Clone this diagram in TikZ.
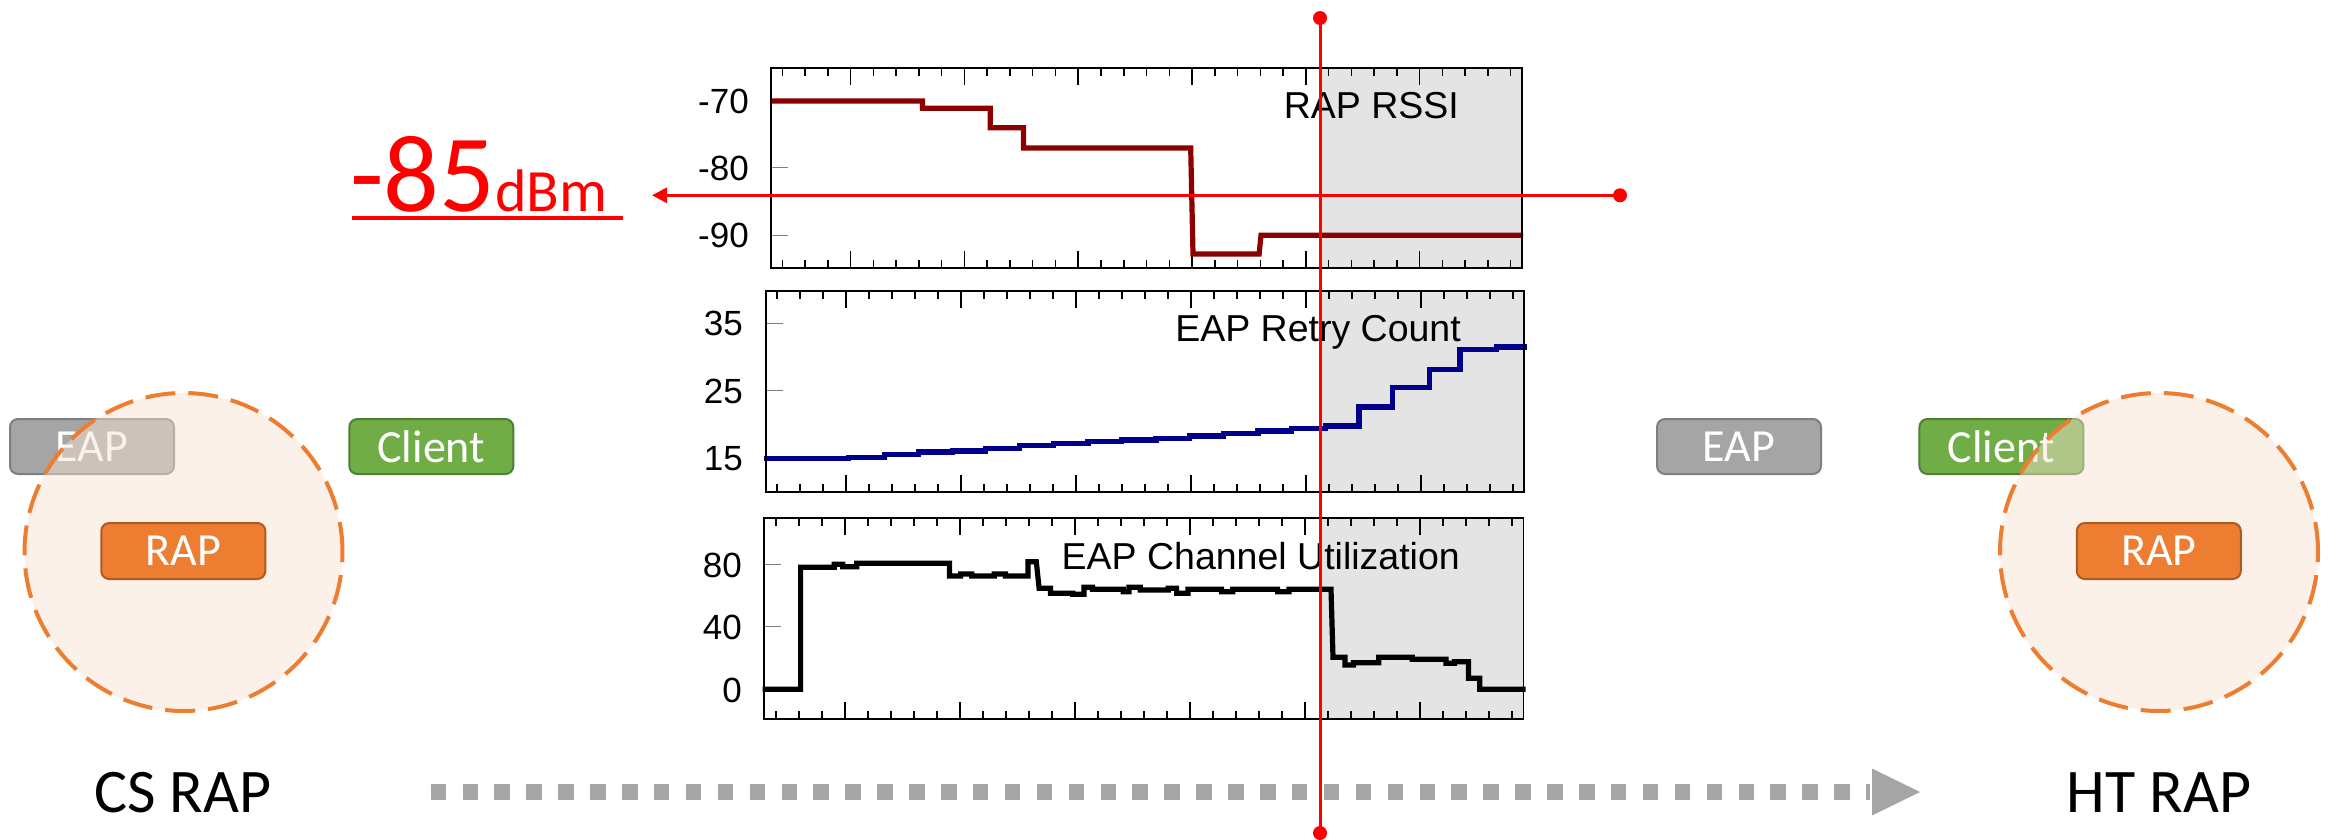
\documentclass[tikz,border=0pt]{standalone}
\usepackage{fontspec}
\setmainfont{Carlito}
\newfontfamily\plotfont{Liberation Sans}
\usetikzlibrary{arrows.meta}
\definecolor{shadegray}{HTML}{E4E4E4}
\definecolor{rssicol}{HTML}{8B0000}
\definecolor{retrycol}{HTML}{00008B}
\definecolor{eapfill}{HTML}{A5A5A5}
\definecolor{eapdraw}{HTML}{7F7F7F}
\definecolor{clifill}{HTML}{70AD47}
\definecolor{clidraw}{HTML}{507E32}
\definecolor{rapfill}{HTML}{ED7D31}
\definecolor{rapdraw}{HTML}{AE5A21}
\definecolor{zonefill}{HTML}{F9E2D1}
\definecolor{arrgray}{HTML}{A5A5A5}
\definecolor{ytickcol}{HTML}{808080}
\newcommand\myplotframe[4]{%
  \fill[shadegray] (1321,#2) rectangle (#3,#4);
  \foreach \i in {0,...,32}{
    \pgfmathsetmacro\tx{#1+((\i+0.5)/33)*(#3-#1)}
    \pgfmathsetmacro\tl{mod(\i,5)==3 ? 17 : 8}
    \draw[xtickline] (\tx,#2) -- ++(0,\tl);
    \draw[xtickline] (\tx,#4) -- ++(0,-\tl);
  }%
}
\begin{document}
\begin{tikzpicture}[x=1pt,y=-1pt,
  xtickline/.style={line width=1.5, black},
  ytickline/.style={line width=1.5, ytickcol},
  frameline/.style={line width=1.8, black},
  dataline/.style={line width=5.2, line join=miter},
  ticklab/.style={anchor=east, inner sep=0, font={\plotfont\fontsize{35}{35}\selectfont}},
  plottitle/.style={anchor=base east, inner sep=0, font={\plotfont\fontsize{37.5}{37.5}\selectfont}},
  tagbox/.style={rounded corners=8, line width=2, minimum width=164, minimum height=55,
    inner sep=0, text=white, font={\fontsize{46}{46}\selectfont}},
  zone/.style={circle, minimum size=318, inner sep=0, fill=zonefill, fill opacity=0.48,
    draw=rapfill, draw opacity=1, line width=4, dash pattern=on 30 off 13},
  caption/.style={anchor=base, inner sep=0, font={\fontsize{62}{62}\selectfont}},
  redline/.style={line width=3, red}
]
\useasboundingbox (0,0) rectangle (2330,839);

% ---------- plot 1: RAP RSSI ----------
\myplotframe{771}{68}{1522}{268}
\draw[ytickline] (771,167.7) -- ++(17,0);
\draw[ytickline] (771,235.3) -- ++(17,0);
\draw[ytickline] (771,101) -- ++(17,0);
\node[ticklab] (r70) at (749,101.5) {-70};
\node[ticklab] (r80) at (749,168) {-80};
\node[ticklab] (r90) at (749,235) {-90};
\node[plottitle] (t1) at (1459,118.3) {RAP RSSI};
\draw[dataline, rssicol] (771,101) -- (922.4,101) -- (922.4,108.3) -- (990.3,108.3) -- (990.3,127.7)
  -- (1023.4,127.7) -- (1023.4,148) -- (1190.7,148) -- (1193,254) -- (1259.1,254) -- (1261,235.3) -- (1523,235.3);
\draw[frameline] (771,68) rectangle (1522,268);

% ---------- plot 2: EAP Retry Count ----------
\myplotframe{765.7}{290.7}{1524.3}{492}
\draw[ytickline] (765.7,323.3) -- ++(17,0);
\draw[ytickline] (765.7,390.7) -- ++(17,0);
\draw[ytickline] (765.7,458.3) -- ++(17,0);
\node[ticklab] (c35) at (743,323.3) {35};
\node[ticklab] (c25) at (743,391) {25};
\node[ticklab] (c15) at (743,458.3) {15};
\node[plottitle] (t2) at (1461,341) {EAP Retry Count};
\draw[dataline, retrycol] (763.5,458.3) -- (848.4,458.3) -- (848.4,457.3) -- (884.8,457.3) -- (884.8,454.3)
  -- (918.5,454.3) -- (918.5,452) -- (952.2,452) -- (952.2,451) -- (985.8,451) -- (985.8,448.3)
  -- (1019.5,448.3) -- (1019.5,445.7) -- (1053.2,445.7) -- (1053.2,443.3) -- (1088,443.3) -- (1088,441.7)
  -- (1121.6,441.7) -- (1121.6,440) -- (1155.9,440) -- (1155.9,438.3) -- (1189.5,438.3) -- (1189.5,436)
  -- (1223.2,436) -- (1223.2,433.3) -- (1258,433.3) -- (1258,431) -- (1291.7,431) -- (1291.7,428.7)
  -- (1325.3,428.7) -- (1325.3,426) -- (1359,426) -- (1359,407) -- (1392.7,407) -- (1392.7,387.7)
  -- (1429.2,387.7) -- (1429.2,369.3) -- (1460,369.3) -- (1460,349.5) -- (1496.5,349.5) -- (1496.5,347)
  -- (1526.5,347);
\draw[frameline] (765.7,290.7) rectangle (1524.3,492);

% ---------- plot 3: EAP Channel Utilization ----------
\myplotframe{764.3}{518.3}{1523.5}{719}
\draw[ytickline] (764.3,564.3) -- ++(17,0);
\draw[ytickline] (764.3,626.7) -- ++(17,0);
\draw[ytickline] (764.3,689.3) -- ++(17,0);
\node[ticklab] (u80) at (742,565) {80};
\node[ticklab] (u40) at (742,627.5) {40};
\node[ticklab] (u0) at (742,690) {0};
\node[plottitle] (t3) at (1460,569) {EAP Channel Utilization};
\draw[dataline, black] (762.5,689.3) -- (800.6,689.3) -- (800.6,567.3) -- (834.3,567.3) -- (834.3,564.3)
  -- (842.7,564.3) -- (842.7,566.7) -- (856.8,566.7) -- (856.8,563.3) -- (949.4,563.3) -- (949.4,576)
  -- (960.6,576) -- (960.6,574) -- (971.8,574) -- (971.8,576) -- (994.3,576) -- (994.3,574) -- (1005.5,574)
  -- (1005.5,576) -- (1027.9,576) -- (1027.9,561.7) -- (1036.3,561.7) -- (1039.1,588.3) -- (1050.4,588.3)
  -- (1050.4,593.3) -- (1072.8,593.3) -- (1072.8,594.3) -- (1084,594.3) -- (1084,587.3) -- (1092.5,587.3)
  -- (1092.5,589.3) -- (1123.3,589.3) -- (1123.3,591.7) -- (1128.9,591.7) -- (1128.9,587.3) -- (1140.2,587.3)
  -- (1140.2,590) -- (1168.2,590) -- (1168.2,588.3) -- (1176.6,588.3) -- (1176.6,593.3) -- (1187.9,593.3)
  -- (1187.9,589.3) -- (1221.5,589.3) -- (1221.5,591.7) -- (1232.7,591.7) -- (1232.7,589.3) -- (1277.6,589.3)
  -- (1277.6,591.7) -- (1288.9,591.7) -- (1288.9,589.3) -- (1331,589.3) -- (1333,657.3) -- (1345,657.3)
  -- (1345,665) -- (1353.4,665) -- (1353.4,662.7) -- (1378.7,662.7) -- (1378.7,657.3) -- (1412.3,657.3)
  -- (1412.3,659.3) -- (1446,659.3) -- (1446,663.3) -- (1454.4,663.3) -- (1454.4,661.7) -- (1468.4,661.7)
  -- (1468.4,678.3) -- (1479.7,678.3) -- (1479.7,689.3) -- (1525.5,689.3);
\draw[frameline] (764.3,518.3) rectangle (1523.5,719);

% ---------- left scene: CS RAP ----------
\node[tagbox, fill=eapfill, draw=eapdraw] (eapL) at (92,446.5) {EAP};
\node[tagbox, fill=clifill, draw=clidraw] (cliL) at (431.3,446.5) {Client};
\node[zone] (zoneL) at (183.5,552) {};
\node[tagbox, fill=rapfill, draw=rapdraw, minimum height=56] (rapL) at (183.3,551) {RAP};
\node[caption] (csrap) at (183,812.7) {CS RAP};

% ---------- right scene: HT RAP ----------
\node[tagbox, fill=eapfill, draw=eapdraw] (eapR) at (1739,446.5) {EAP};
\node[tagbox, fill=clifill, draw=clidraw] (cliR) at (2001.4,446.5) {Client};
\node[zone] (zoneR) at (2159,552) {};
\node[tagbox, fill=rapfill, draw=rapdraw, minimum height=56] (rapR) at (2158.8,551) {RAP};
\node[caption] (htrap) at (2159,812.7) {HT RAP};

% ---------- gray dotted progress arrow ----------
\coordinate (pS) at (430.6,792);
\coordinate (pE) at (1870,792);
\coordinate (pT) at (1920,792);
\draw[arrgray, line width=16, dash pattern=on 15.5 off 16.4] (pS) -- (pE);
\fill[arrgray] (1872,768.5) -- (pT) -- (1872,815.5) -- cycle;

% ---------- -85 dBm ----------
\node[anchor=base west, inner sep=0, text=red] (dbm) at (350,211)
  {\fontsize{110}{110}\selectfont -85\fontsize{60}{60}\selectfont dBm};
\draw[red, line width=4] (352,218) -- (623,218);

% ---------- red threshold lines ----------
\coordinate (vT) at (1320,18);
\coordinate (vB) at (1320,833);
\coordinate (hR) at (1620,195.3);
\coordinate (hL) at (652,195.3);
\draw[redline] (vT) -- (vB);
\draw[redline, -{Triangle[length=15,width=15]}] (hR) -- (hL);
\fill[red] (vT) circle (7);
\fill[red] (vB) circle (7);
\fill[red] (hR) circle (7);
\end{tikzpicture}
\end{document}
